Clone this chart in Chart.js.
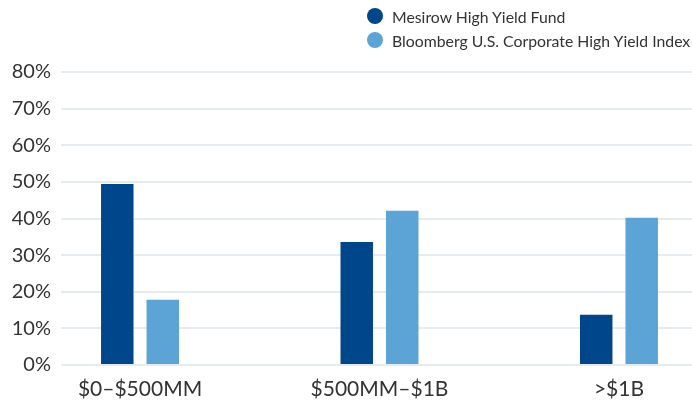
<!DOCTYPE html>
<html>
<head>
<meta charset="utf-8">
<script src="https://cdn.jsdelivr.net/npm/chart.js@4/dist/chart.umd.min.js"></script>
<style>
    html, body { margin: 0; padding: 0; background: #fff; }
    #wrap { position: relative; width: 692px; height: 419px; }
    #legend {
        position: absolute; left: 367px; top: 4px;
        font-family: Lato, sans-serif; font-size: 15.8px; color: #333;
    }
    .item { display: flex; align-items: center; height: 24px; }
    .dot { width: 16px; height: 16px; border-radius: 50%; margin-right: 9px; }
</style>
</head>
<body>
<div id="wrap">
    <canvas id="chart" width="692" height="419"></canvas>
    <div id="legend"></div>
</div>
<script>
// Chart data
const categories = ['$0–$500MM', '$500MM–$1B', '>$1B'];
const seriesNames = ['Mesirow High Yield Fund', 'Bloomberg U.S. Corporate High Yield Index'];
const fundValues = [49.4, 33.6, 13.7];
const indexValues = [17.8, 42.1, 40.2];
const yTicks = [0, 10, 20, 30, 40, 50, 60, 70, 80];

const colors = ['#00468b', '#5ca4d5'];

function toPoints(values) {
    return values.map((v, i) => ({ x: i, y: v }));
}

// HTML legend
const legend = document.getElementById('legend');
seriesNames.forEach((name, i) => {
    const row = document.createElement('div');
    row.className = 'item';
    row.innerHTML = `<span class="dot" style="background:${colors[i]}"></span><span>${name}</span>`;
    legend.appendChild(row);
});

new Chart(document.getElementById('chart'), {
    type: 'bar',
    data: {
        datasets: [
            { label: seriesNames[0], data: toPoints(fundValues), backgroundColor: colors[0] },
            { label: seriesNames[1], data: toPoints(indexValues), backgroundColor: colors[1] }
        ]
    },
    options: {
        responsive: false,
        animation: false,
        layout: { padding: { top: 72, right: 0, bottom: 0, left: 0 } },
        datasets: {
            bar: { categoryPercentage: 0.38, barPercentage: 0.714 }
        },
        plugins: {
            legend: { display: false },
            tooltip: { enabled: false }
        },
        scales: {
            x: {
                type: 'linear',
                offset: false,
                min: -0.33,
                max: 2.305,
                afterBuildTicks: scale => { scale.ticks = categories.map((c, i) => ({ value: i })); },
                afterFit: scale => { scale.height = 54; },
                grid: { display: false, drawTicks: false, offset: false },
                border: { display: false },
                ticks: {
                    padding: 12,
                    color: '#333',
                    font: { family: 'Lato, sans-serif', size: 21 },
                    maxRotation: 0,
                    autoSkip: false,
                    callback: v => categories[v] ?? ''
                }
            },
            y: {
                min: 0,
                max: 80,
                afterBuildTicks: scale => { scale.ticks = yTicks.map(v => ({ value: v })); },
                afterFit: scale => { scale.width = 61; },
                grid: { color: '#e5ebee', lineWidth: 2, drawTicks: false },
                border: { display: false },
                ticks: {
                    padding: 10,
                    color: '#333',
                    font: { family: 'Lato, sans-serif', size: 20 },
                    callback: v => v + '%'
                }
            }
        }
    }
});
</script>
</body>
</html>
